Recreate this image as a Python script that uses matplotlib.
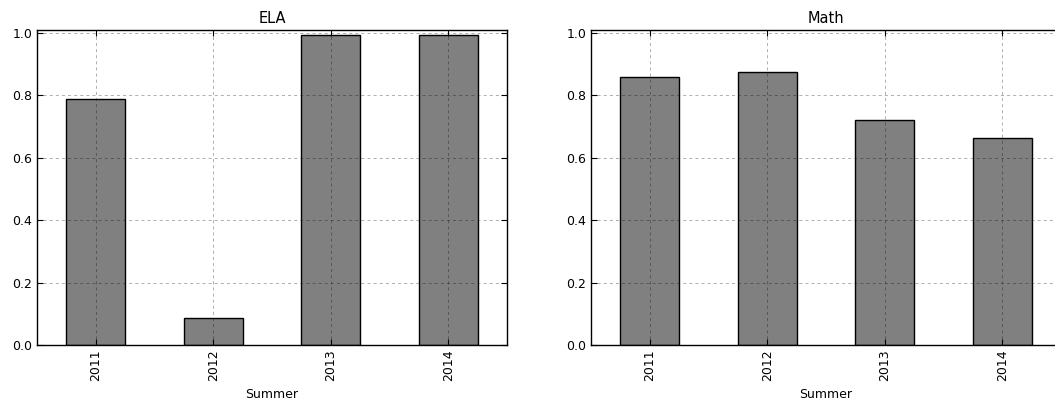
import numpy as np
import matplotlib.pyplot as plt

years = ["2011", "2012", "2013", "2014"]
ela = [0.79, 0.085, 0.995, 0.995]
math = [0.86, 0.875, 0.72, 0.665]

W, H = 1055, 407
fig = plt.figure(figsize=(W / 100, H / 100), dpi=100)

# axes placed in pixels; right one runs off the edge like the reference
ax1 = fig.add_axes([37 / W, 1 - 345 / H, 470 / W, 315 / H])
ax2 = fig.add_axes([591 / W, 1 - 345 / H, 470 / W, 315 / H])

x = np.arange(len(years))
for ax, vals, title in [(ax1, ela, "ELA"), (ax2, math, "Math")]:
    ax.bar(x, vals, 0.5, color="#808080", edgecolor="black", linewidth=1.0, zorder=2)
    ax.set_xlim(-0.5, 3.5)
    ax.set_ylim(0, 1.01)
    ax.set_yticks([0.0, 0.2, 0.4, 0.6, 0.8, 1.0])
    ax.set_xticks(x)
    ax.set_xticklabels(years, rotation=90)
    ax.set_xlabel("Summer", fontsize=9, labelpad=5)
    ax.set_title(title, fontsize=10.5, pad=5)
    ax.grid(True, color="black", alpha=0.4, linestyle=(0, (4, 4)),
            linewidth=0.55, zorder=3)
    ax.set_axisbelow(False)
    ax.tick_params(direction="in", top=True, right=True, length=4, labelsize=9)
    for s in ax.spines.values():
        s.set_linewidth(1.0)

fig.savefig("out.png", dpi=100)
